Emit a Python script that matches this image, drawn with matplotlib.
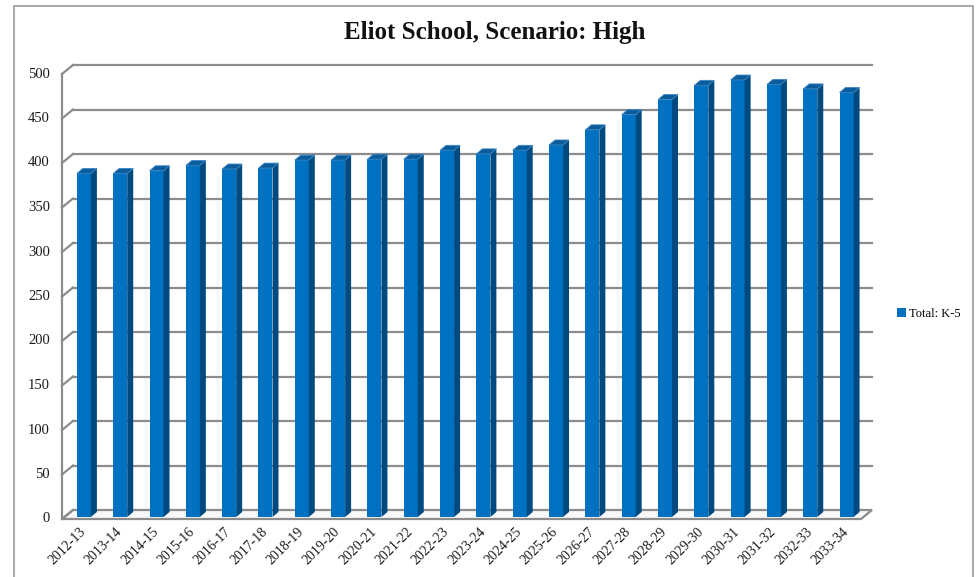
import numpy as np
import matplotlib
matplotlib.use('Agg')
import matplotlib.pyplot as plt
from matplotlib.patches import Polygon, Rectangle

plt.rcParams['font.family'] = ['Liberation Serif', 'DejaVu Serif']

years = ['2012-13', '2013-14', '2014-15', '2015-16', '2016-17', '2017-18',
         '2018-19', '2019-20', '2020-21', '2021-22', '2022-23', '2023-24',
         '2024-25', '2025-26', '2026-27', '2027-28', '2028-29', '2029-30',
         '2030-31', '2031-32', '2032-33', '2033-34']
total_k5 = [386, 386, 389, 395, 391, 392, 401, 401, 402, 402, 412, 408,
            412, 418, 435, 452, 469, 485, 491, 486, 481, 477]
y_ticks = [0, 50, 100, 150, 200, 250, 300, 350, 400, 450, 500]

W, H = 979, 577
fig = plt.figure(figsize=(W / 100, H / 100), dpi=100)

# back wall of the fake 3d plot area (pixels)
left_px, right_px, top_px, bot_px = 73, 872, 65, 510
ax = fig.add_axes([left_px / W, 1 - bot_px / H, (right_px - left_px) / W, (bot_px - top_px) / H])
n = len(years)
ax.set_xlim(-0.5, n - 0.5)
ax.set_ylim(0, 500)
ax.axis('off')

px_x = n / (right_px - left_px)   # data units per pixel
px_y = 500 / (bot_px - top_px)

# wall depth (front plane offset)
wdx, wdy = 11 * px_x, 9 * px_y
grid_col = '#8c8c8c'

# floor
floor = Polygon([(-0.5 - wdx, -wdy), (n - 0.5 - wdx, -wdy), (n - 0.5, 0), (-0.5, 0)],
                closed=True, facecolor='#f8f8f8', edgecolor=grid_col, lw=1.6,
                clip_on=False, zorder=1)
ax.add_patch(floor)

# gridlines on back wall + left wall slants
for t in y_ticks:
    if t > 0:
        ax.plot([-0.5, n - 0.5], [t, t], color=grid_col, lw=1.6, clip_on=False, zorder=1)
    ax.plot([-0.5 - wdx, -0.5], [t - wdy, t], color=grid_col, lw=1.6, clip_on=False, zorder=1)
    ax.text(-0.5 - wdx - 12 * px_x, t - wdy, str(t), ha='right', va='center',
            fontsize=10.5, color='#1a1a1a')
ax.plot([-0.5 - wdx, -0.5 - wdx], [-wdy, 500 - wdy], color=grid_col, lw=1.6,
        clip_on=False, zorder=1)

# bars: front face + side + top
bw = 14 * px_x
boff = -0.2
bbot = -7 * px_y
ddx, ddy = 6 * px_x, 5 * px_y
front_col, side_col, top_col = '#0070c0', '#004a80', '#0a5c9c'
x = np.arange(n)
bars = ax.bar(x + boff, total_k5, width=bw, bottom=bbot, color=front_col,
              label='Total: K-5', zorder=3, clip_on=False)
for xi, v in zip(x, total_k5):
    xl = xi + boff - bw / 2
    xr = xi + boff + bw / 2
    yt = bbot + v
    side = Polygon([(xr, bbot), (xr + ddx, bbot + ddy), (xr + ddx, yt + ddy), (xr, yt)],
                   closed=True, facecolor=side_col, edgecolor='none', zorder=3, clip_on=False)
    top = Polygon([(xl, yt), (xr, yt), (xr + ddx, yt + ddy), (xl + ddx, yt + ddy)],
                  closed=True, facecolor=top_col, edgecolor='#3a85c4', lw=0.6,
                  zorder=4, clip_on=False)
    ax.add_patch(side)
    ax.add_patch(top)

# category labels
for xi, lab in zip(x, years):
    ax.text(xi - wdx + 0.1, -wdy - 11 * px_y, lab, rotation=45, ha='right', va='center',
            rotation_mode='anchor', fontsize=10, color='#1a1a1a')

fig.text(495 / W, 1 - 32 / H, 'Eliot School, Scenario: High', ha='center', va='center',
         fontsize=18, fontweight='bold', color='#111111')

fig.legend(handles=[bars], loc='center left', bbox_to_anchor=(897 / W, 1 - 314 / H),
           frameon=False, fontsize=9, handlelength=0.7, handleheight=0.7,
           handletextpad=0.3, borderpad=0, borderaxespad=0)

# outer chart border
fig.patches.append(Rectangle((14 / W, -0.05), (973 - 14) / W, 1.05 - 6 / H,
                             transform=fig.transFigure, fill=False,
                             edgecolor='#9a9a9a', lw=1.2))

fig.savefig('out.png', dpi=100)
